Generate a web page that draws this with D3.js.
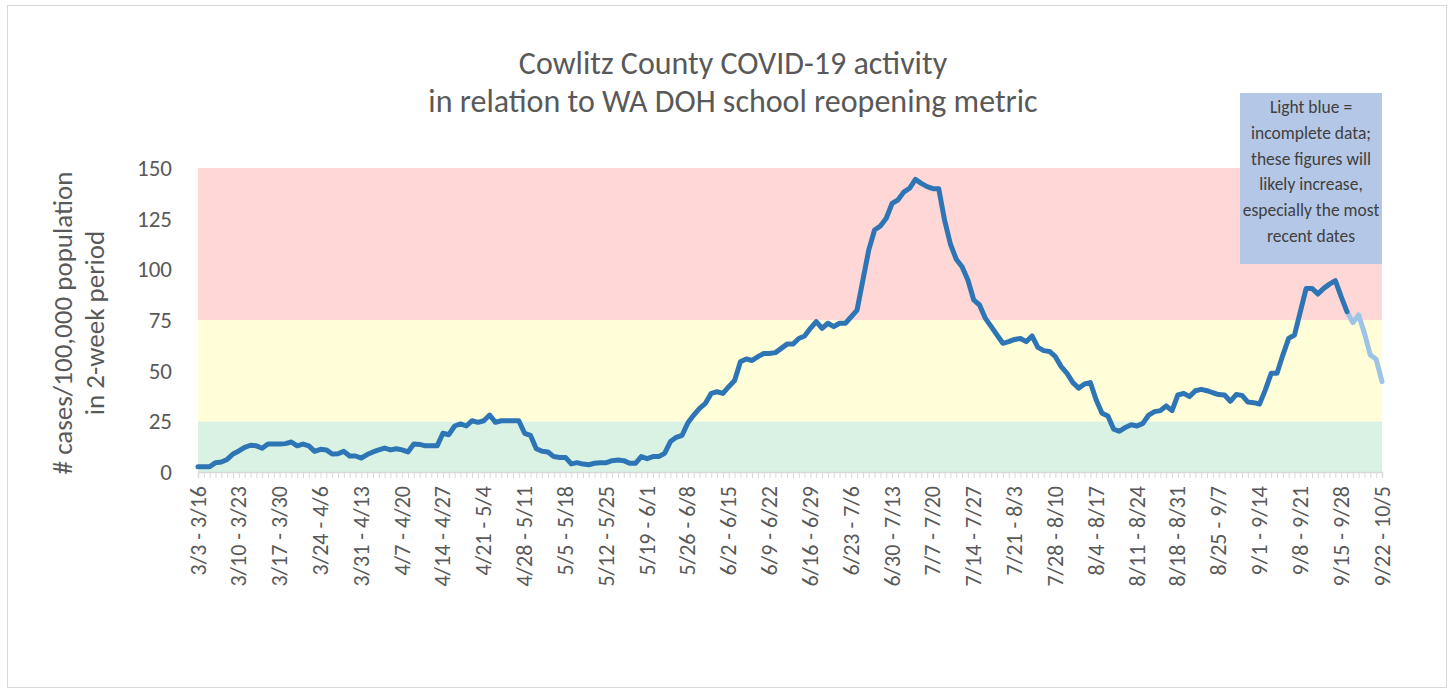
<!DOCTYPE html>
<html>
<head>
<meta charset="utf-8">
<script src="https://cdn.jsdelivr.net/npm/d3@7"></script>
<style>
  body { margin: 0; background: #fff; }
  text { font-family: Carlito, Calibri, Lato, "Open Sans", sans-serif; }
</style>
</head>
<body>
<div id="chart"></div>
<script>
// data -----------------------------------------------------------------
const firstStart = new Date(2020, 2, 3)   // 3/3
const lastStart = new Date(2020, 8, 22)   // 9/22

// 2-week case rate per 100,000, one value per window start day
const caseRate = [
  2.6, 2.6, 2.6, 4.6, 4.9, 6.2, 8.9, 10.4, 12.2, 13.2,
  12.9, 11.7, 13.8, 13.8, 13.8, 14.0, 14.8, 12.9, 13.8, 12.9,
  10.2, 11.2, 10.9, 8.9, 9.0, 10.2, 7.9, 7.9, 6.9, 8.6,
  9.9, 10.9, 11.8, 10.9, 11.5, 10.9, 9.9, 13.8, 13.6, 12.9,
  12.9, 12.9, 19.1, 18.4, 22.7, 23.7, 22.7, 25.3, 24.5, 25.3,
  28.1, 24.5, 25.3, 25.3, 25.3, 25.3, 19.1, 18.1, 11.5, 10.2,
  9.9, 7.6, 7.2, 7.2, 4.0, 4.6, 3.9, 3.6, 4.3, 4.6,
  4.6, 5.6, 5.9, 5.6, 4.3, 4.3, 7.6, 6.6, 7.6, 7.6,
  9.2, 15.0, 17.1, 18.1, 24.3, 28.1, 31.4, 33.9, 38.8, 39.6,
  38.8, 42.1, 45.1, 54.4, 55.8, 55.0, 56.9, 58.5, 58.5, 58.9,
  61.0, 63.1, 63.1, 65.9, 67.1, 70.9, 74.2, 70.9, 73.4, 71.7,
  73.4, 73.4, 76.6, 79.9, 94.7, 109.5, 119.4, 121.4, 125.2, 132.5,
  134.2, 138.1, 140.0, 144.4, 142.4, 140.8, 139.8, 139.8, 124.3, 112.5,
  105.0, 101.3, 94.7, 84.9, 82.4, 75.8, 71.7, 67.6, 63.5, 64.3,
  65.4, 65.9, 64.3, 67.1, 61.5, 59.9, 59.5, 56.9, 52.0, 48.7,
  44.1, 41.4, 43.4, 44.1, 35.5, 29.0, 27.6, 21.1, 20.1, 22.0,
  23.3, 22.7, 24.0, 28.1, 29.8, 30.3, 32.6, 30.3, 38.0, 38.8,
  37.2, 40.1, 40.8, 40.1, 39.1, 38.2, 38.0, 34.9, 38.2, 37.8,
  34.5, 34.2, 33.5, 40.5, 48.7, 48.7, 57.7, 65.9, 67.6, 79.1,
  90.6, 90.6, 87.8, 90.6, 92.7, 94.4, 86.5, 79.1, 73.7, 77.5,
  68.4, 57.7, 55.6, 44.6
]
const incompleteFrom = 197   // light blue from this window on

// metric bands
const bands = [
  { from: 0, to: 25, color: '#d9f2e4' },
  { from: 25, to: 75, color: '#fffed9' },
  { from: 75, to: 150, color: '#ffd7d7' }
]
const yTicks = [0, 25, 50, 75, 100, 125, 150]

const titleLines = ['Cowlitz County COVID-19 activity', 'in relation to WA DOH school reopening metric']
const yTitleLines = ['# cases/100,000 population', 'in 2-week period']
const noteLines = ['Light blue =', 'incomplete data;', 'these figures will', 'likely increase,', 'especially the most', 'recent dates']

// categories "3/3 - 3/16" ...
const fmt = d3.timeFormat('%-m/%-d')
const starts = d3.timeDay.range(firstStart, d3.timeDay.offset(lastStart, 1))
const categories = starts.map(d => fmt(d) + ' - ' + fmt(d3.timeDay.offset(d, 13)))
const data = categories.map((c, i) => ({ cat: c, v: caseRate[i], i: i }))

// layout ---------------------------------------------------------------
let w = 1450,
  h = 690,
  plot = { left: 198, right: 1382, top: 168, bottom: 472 }

let svg = d3.select('#chart')
  .append('svg')
  .attr('width', w)
  .attr('height', h)

// outer chart border
svg.append('rect')
  .attr('x', 7.5).attr('y', 5.5)
  .attr('width', 1439).attr('height', 682)
  .attr('fill', '#fff')
  .attr('stroke', '#d9d9d9')

let x = d3.scalePoint()
  .domain(categories)
  .range([plot.left, plot.right])

let y = d3.scaleLinear()
  .domain([0, 150])
  .range([plot.bottom, plot.top])

// bands
svg.append('g')
  .selectAll('rect')
  .data(bands)
  .enter()
  .append('rect')
  .attr('x', plot.left)
  .attr('width', plot.right - plot.left)
  .attr('y', d => y(d.to))
  .attr('height', d => y(d.from) - y(d.to))
  .attr('fill', d => d.color)

// x axis
let xAxis = svg.append('g')
  .attr('transform', `translate(0,${plot.bottom})`)
  .call(d3.axisBottom(x).tickSize(6).tickFormat(''))
xAxis.select('.domain').attr('stroke', '#d9d9d9').attr('stroke-width', 1.5)
xAxis.selectAll('.tick line').attr('stroke', '#d9d9d9')

svg.append('g')
  .selectAll('text')
  .data(categories.filter((c, i) => i % 7 === 0))
  .enter()
  .append('text')
  .attr('transform', d => `translate(${x(d) + 7.5},${plot.bottom + 14}) rotate(-90)`)
  .attr('text-anchor', 'end')
  .attr('font-size', 22)
  .attr('fill', '#595959')
  .text(d => d)

// y tick labels
svg.append('g')
  .selectAll('text')
  .data(yTicks)
  .enter()
  .append('text')
  .attr('x', 172)
  .attr('y', d => y(d) + 8)
  .attr('text-anchor', 'end')
  .attr('font-size', 23)
  .attr('fill', '#595959')
  .text(d => d)

// y title
yTitleLines.forEach((t, i) => {
  svg.append('text')
    .attr('transform', `translate(${72 + i * 32},323) rotate(-90)`)
    .attr('text-anchor', 'middle')
    .attr('font-size', 27)
    .attr('fill', '#595959')
    .text(t)
})

// title
titleLines.forEach((t, i) => {
  svg.append('text')
    .attr('x', 733)
    .attr('y', 74 + i * 38)
    .attr('text-anchor', 'middle')
    .attr('font-size', 32)
    .attr('fill', '#595959')
    .text(t)
})

// lines
let line = d3.line()
  .x(d => x(d.cat))
  .y(d => y(d.v))

svg.append('path')
  .datum(data.slice(incompleteFrom))
  .attr('d', line)
  .attr('fill', 'none')
  .attr('stroke', '#9dc3e6')
  .attr('stroke-width', 5)
  .attr('stroke-linejoin', 'round')
  .attr('stroke-linecap', 'round')

svg.append('path')
  .datum(data.slice(0, incompleteFrom + 1))
  .attr('d', line)
  .attr('fill', 'none')
  .attr('stroke', '#2e75b6')
  .attr('stroke-width', 5)
  .attr('stroke-linejoin', 'round')
  .attr('stroke-linecap', 'round')

// note box
svg.append('rect')
  .attr('x', 1240).attr('y', 93)
  .attr('width', 142).attr('height', 171)
  .attr('fill', '#b4c7e7')

noteLines.forEach((t, i) => {
  svg.append('text')
    .attr('x', 1311)
    .attr('y', 113 + i * 25.8)
    .attr('text-anchor', 'middle')
    .attr('font-size', 17.5)
    .attr('fill', '#404040')
    .text(t)
})
</script>
</body>
</html>
